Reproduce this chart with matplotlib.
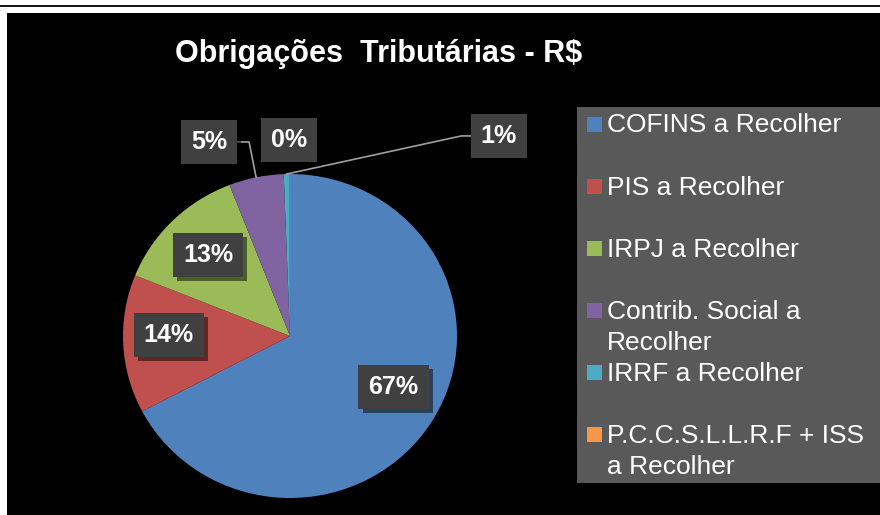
import numpy as np
import matplotlib.pyplot as plt
import matplotlib.patheffects as pe
from matplotlib.patches import Rectangle

plt.rcParams['font.family'] = ['Liberation Sans', 'DejaVu Sans']

# Data (shares in %)
categories = ['COFINS a Recolher', 'PIS a Recolher', 'IRPJ a Recolher',
              'Contrib. Social a\nRecolher', 'IRRF a Recolher',
              'P.C.C.S.L.L.R.F + ISS\na Recolher']
shares = [67.3, 13.8, 13.0, 5.3, 0.55, 0.05]
colors = ['#4F81BD', '#C0504D', '#9BBB59', '#8064A2', '#4BACC6', '#F79646']

# label positions in pie units (x right, y up, radius 1)
label_pos = [(0.62, -0.315), (-0.725, 0.006), (-0.49, 0.50),
             (-0.485, 1.198), (1.251, 1.235), (-0.006, 1.21)]
# leader lines: (slice index, box side offset, elbow offset)
leaders = [(3, 0.17, 0.07), (4, -0.17, -0.055)]

W, H = 880, 515
fig = plt.figure(figsize=(W / 100, H / 100), dpi=100)
fig.patch.set_facecolor('white')

# background: black chart area and the line on top
bg = fig.add_axes([0, 0, 1, 1])
bg.set_xlim(0, W)
bg.set_ylim(H, 0)
bg.axis('off')
bg.add_patch(Rectangle((7, 12.5), W - 7, H - 12.5, facecolor='black', edgecolor='none'))
bg.plot([0, W], [5.7, 5.7], color='black', linewidth=1.3)

# legend drawn by hand, Excel style
bg.add_patch(Rectangle((577, 107), W - 577, 376, facecolor='#595959', edgecolor='none'))
for i, (lab, col) in enumerate(zip(categories, colors)):
    base = 132.5 + 62.1 * i
    bg.add_patch(Rectangle((587, base - 16), 15, 15, facecolor=col, edgecolor='none'))
    for j, line in enumerate(lab.split('\n')):
        bg.text(607, base + 31 * j, line, fontsize=19, color='white',
                ha='left', va='baseline')

fig.text(379 / W, 1 - 62 / H, 'Obrigações  Tributárias - R$', ha='center',
         va='baseline', fontsize=22, fontweight='bold', color='white')

# pie
cx, cy, rx, ry = 290, 336, 167, 162
ax = fig.add_axes([(cx - rx) / W, 1 - (cy + ry) / H, 2 * rx / W, 2 * ry / H])
wedges, _ = ax.pie(shares, colors=colors, startangle=90, counterclock=False,
                   wedgeprops=dict(linewidth=0))
ax.set_xlim(-1, 1)
ax.set_ylim(-1, 1)
ax.set_aspect('auto')
ax.axis('off')

total = sum(shares)
for v, (x, y) in zip(shares, label_pos):
    t = ax.text(x, y, f'{v / total * 100:.0f}%', ha='center', va='center',
                fontsize=18, fontweight='bold', color='white',
                bbox=dict(boxstyle='square,pad=0.4', fc='#404040', ec='none'))
    t.get_bbox_patch().set_path_effects(
        [pe.withSimplePatchShadow(offset=(3, -3), shadow_rgbFace='black', alpha=0.5)])

for idx, side, elbow in leaders:
    w = wedges[idx]
    mid = np.deg2rad((w.theta1 + w.theta2) / 2)
    lx, ly = label_pos[idx]
    ax.plot([lx + side, lx + side + elbow, np.cos(mid)],
            [ly, ly, np.sin(mid)], color='#a0a0a0', linewidth=1.2, clip_on=False)

fig.savefig('out.png', dpi=100, facecolor=fig.get_facecolor())
